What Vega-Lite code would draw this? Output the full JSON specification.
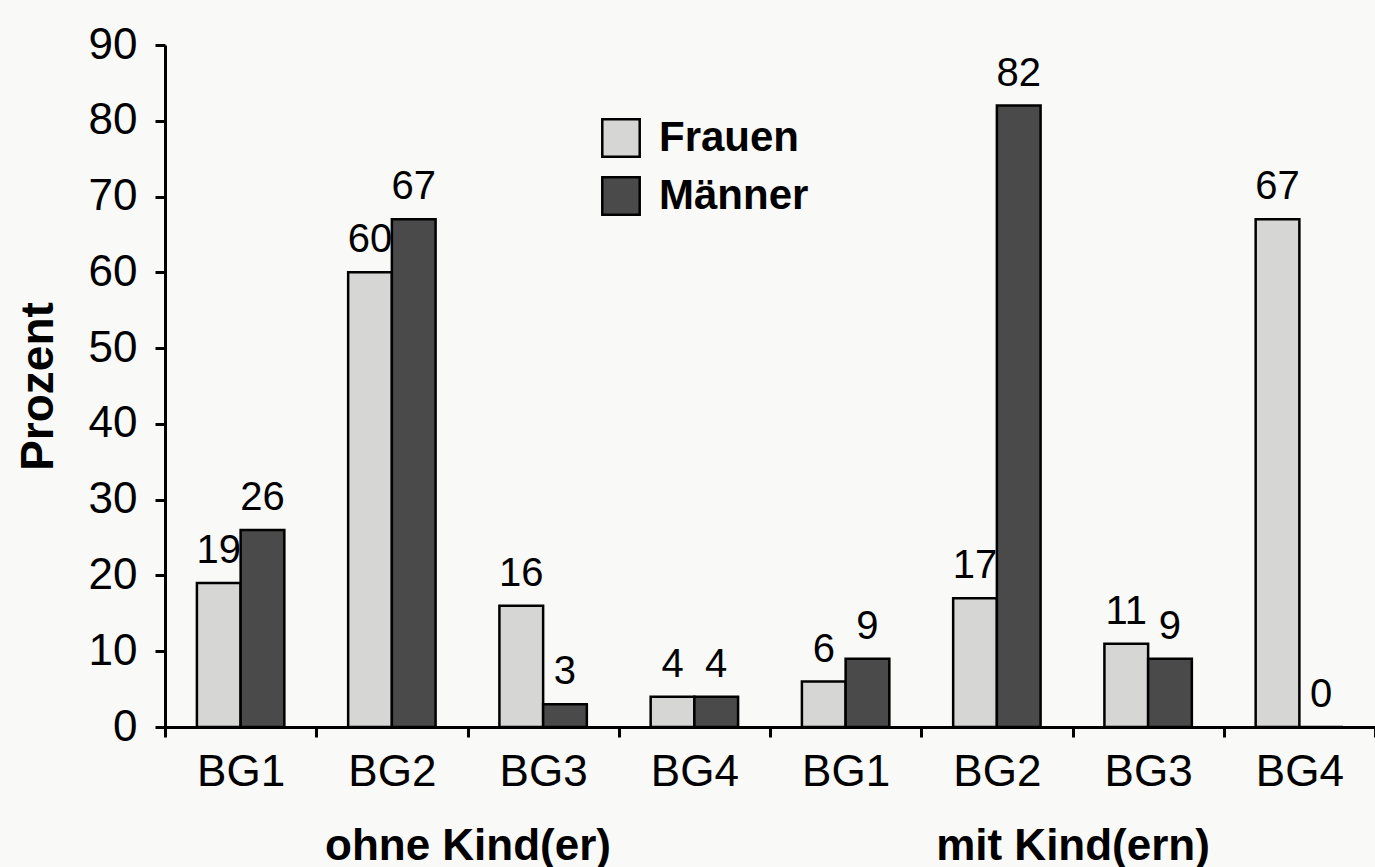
{
  "$schema": "https://vega.github.io/schema/vega-lite/v6.json",
  "width": 1210,
  "height": 682,
  "autosize": {"type": "none"},
  "padding": {"left": 165, "top": 45, "right": 0, "bottom": 140},
  "background": "#f9f9f7",
  "config": {
    "view": {"stroke": null},
    "font": "Liberation Sans",
    "axis": {"grid": false, "domainColor": "black", "domainWidth": 3, "tickColor": "black", "tickWidth": 3, "labelColor": "black", "titleColor": "black", "labelLimit": 0}
  },
  "datasets": {
    "bars": [
      {"cat": "ohne|BG1", "sex": "Frauen", "value": 19},
      {"cat": "ohne|BG1", "sex": "Männer", "value": 26},
      {"cat": "ohne|BG2", "sex": "Frauen", "value": 60},
      {"cat": "ohne|BG2", "sex": "Männer", "value": 67},
      {"cat": "ohne|BG3", "sex": "Frauen", "value": 16},
      {"cat": "ohne|BG3", "sex": "Männer", "value": 3},
      {"cat": "ohne|BG4", "sex": "Frauen", "value": 4},
      {"cat": "ohne|BG4", "sex": "Männer", "value": 4},
      {"cat": "mit|BG1", "sex": "Frauen", "value": 6},
      {"cat": "mit|BG1", "sex": "Männer", "value": 9},
      {"cat": "mit|BG2", "sex": "Frauen", "value": 17},
      {"cat": "mit|BG2", "sex": "Männer", "value": 82},
      {"cat": "mit|BG3", "sex": "Frauen", "value": 11},
      {"cat": "mit|BG3", "sex": "Männer", "value": 9},
      {"cat": "mit|BG4", "sex": "Frauen", "value": 67},
      {"cat": "mit|BG4", "sex": "Männer", "value": 0}
    ],
    "groups": [
      {"grp": "ohne Kind(er)"},
      {"grp": "mit Kind(ern)"}
    ]
  },
  "layer": [
    {
      "data": {"name": "bars"},
      "encoding": {
        "x": {
          "field": "cat", "type": "nominal",
          "sort": ["ohne|BG1", "ohne|BG2", "ohne|BG3", "ohne|BG4", "mit|BG1", "mit|BG2", "mit|BG3", "mit|BG4"],
          "scale": {"paddingInner": 0, "paddingOuter": 0},
          "axis": {"title": null, "labelExpr": "split(datum.value, '|')[1]", "labelAngle": 0, "labelFontSize": 44, "labelPadding": 13, "tickBand": "extent", "tickSize": 10, "orient": "bottom"}
        },
        "xOffset": {
          "field": "sex", "type": "nominal",
          "scale": {"domain": ["Frauen", "Männer"], "paddingInner": 0, "paddingOuter": 0.73}
        },
        "y": {
          "field": "value", "type": "quantitative",
          "scale": {"domain": [0, 90], "nice": false},
          "axis": {"title": "Prozent", "values": [0, 10, 20, 30, 40, 50, 60, 70, 80, 90], "labelFontSize": 44, "labelPadding": 18, "tickSize": 10, "titleFontSize": 46, "titleFontWeight": "bold", "titlePadding": 26}
        }
      },
      "layer": [
        {
          "mark": {"type": "bar", "stroke": "black", "strokeWidth": 2.5, "opacity": 1},
          "encoding": {
            "color": {
              "field": "sex", "type": "nominal",
              "scale": {"domain": ["Frauen", "Männer"], "range": ["#d6d6d4", "#4a4a4a"]},
              "legend": {"title": null, "orient": "none", "legendX": 435, "legendY": 72, "symbolType": "square", "symbolSize": 1400, "symbolStrokeColor": "black", "symbolStrokeWidth": 2.5, "symbolOpacity": 1, "labelFontSize": 42, "labelFontWeight": "bold", "labelColor": "black", "labelOffset": 17, "rowPadding": 10}
            }
          }
        },
        {
          "mark": {"type": "text", "baseline": "bottom", "dy": -12, "fontSize": 40, "color": "black"},
          "encoding": {"text": {"field": "value", "type": "quantitative"}}
        }
      ]
    },
    {
      "data": {"name": "groups"},
      "mark": {"type": "point", "opacity": 0},
      "encoding": {
        "x": {
          "field": "grp", "type": "nominal", "sort": ["ohne Kind(er)", "mit Kind(ern)"],
          "scale": {"paddingInner": 0, "paddingOuter": 0},
          "axis": {"title": null, "orient": "bottom", "domain": false, "ticks": false, "tickSize": 0, "labelAngle": 0, "labelFontSize": 44, "labelFontWeight": "bold", "labelPadding": 97, "labelColor": "black", "labelLimit": 0}
        },
        "y": {"datum": 0, "type": "quantitative"}
      }
    }
  ],
  "resolve": {"scale": {"x": "independent"}, "axis": {"x": "independent"}}
}
